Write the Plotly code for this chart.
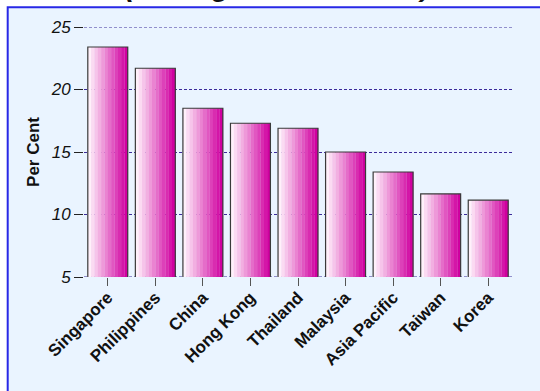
import plotly.graph_objects as go

categories = ["Singapore", "Philippines", "China", "Hong Kong", "Thailand",
              "Malaysia", "Asia Pacific", "Taiwan", "Korea"]
values = [23.4, 21.7, 18.5, 17.3, 16.9, 15.0, 13.4, 11.65, 11.15]
y_ticks = [5, 10, 15, 20, 25]
title_text = "(Average of 1990-1998)"
y_title = "Per Cent"

def lerp(c1, c2, t):
    return "rgb({},{},{})".format(*[round(a + (b - a) * t) for a, b in zip(c1, c2)])

light = (255, 240, 250)
dark = (208, 0, 160)
N = 12
bw = 0.84
grid_col = "#3b2a9a"

fig = go.Figure()
for i in range(N):
    fig.add_trace(go.Bar(
        x=categories, y=values,
        width=bw / N + 0.004, offset=-bw / 2 + i * bw / N,
        marker=dict(color=lerp(light, dark, i / (N - 1)), line=dict(width=0)),
        showlegend=False, hoverinfo="skip"))
fig.add_trace(go.Bar(
    x=categories, y=values, width=bw, offset=-bw / 2,
    marker=dict(color="rgba(0,0,0,0)", line=dict(color="#3a3a3a", width=1.2)),
    showlegend=False))

W, H = 540, 391
ml, mr, mt, mb = 84, 28, 27, 114
ph = H - mt - mb
pw = W - ml - mr

def px_x(p):
    return (p - ml) / pw

def px_y(p):
    return (H - mb - p) / ph

shapes = [dict(type="rect", xref="paper", yref="paper",
               x0=px_x(7.7), x1=px_x(580), y0=px_y(440), y1=px_y(7.2),
               fillcolor="#EAF4FF", line=dict(color="#2828E6", width=2),
               layer="below")]
for yv in (y_ticks[0], y_ticks[-1]):
    shapes.append(dict(type="line", xref="paper", yref="y", x0=0, x1=1, y0=yv, y1=yv,
                       line=dict(color=grid_col, width=1, dash="3px,2px"), layer="below"))

fig.update_layout(
    width=W, height=H,
    margin=dict(l=ml, r=mr, t=mt, b=mb),
    barmode="overlay",
    paper_bgcolor="white",
    plot_bgcolor="rgba(0,0,0,0)",
    font=dict(family="Arial, Liberation Sans, sans-serif", color="#111"),
    shapes=shapes,
    annotations=[dict(text="<b><i>" + title_text + "</i></b>", xref="paper", yref="paper",
                      x=px_x(277), y=px_y(4.5), xanchor="center", yanchor="bottom",
                      showarrow=False, font=dict(size=28, color="#111"))],
    xaxis=dict(
        type="category", showgrid=False, ticks="outside", ticklen=8,
        tickcolor="#555", tickangle=-45, ticklabelstandoff=-5,
        tickfont=dict(size=17, family="Arial, Liberation Sans, sans-serif", weight="bold"),
        showline=False, zeroline=False),
    yaxis=dict(
        range=[5, 25], tickvals=y_ticks,
        ticktext=["<i>%d</i>" % t for t in y_ticks],
        ticks="outside", ticklen=9,
        tickcolor="#222", showgrid=True, gridcolor=grid_col, griddash="3px,2px",
        gridwidth=1, zeroline=False, showline=False,
        tickfont=dict(size=17),
        title=dict(text="<b>" + y_title + "</b>", font=dict(size=17), standoff=6)),
)

fig.write_html("out.html", config={"displayModeBar": False},
               post_script="document.body.style.margin='0';")
